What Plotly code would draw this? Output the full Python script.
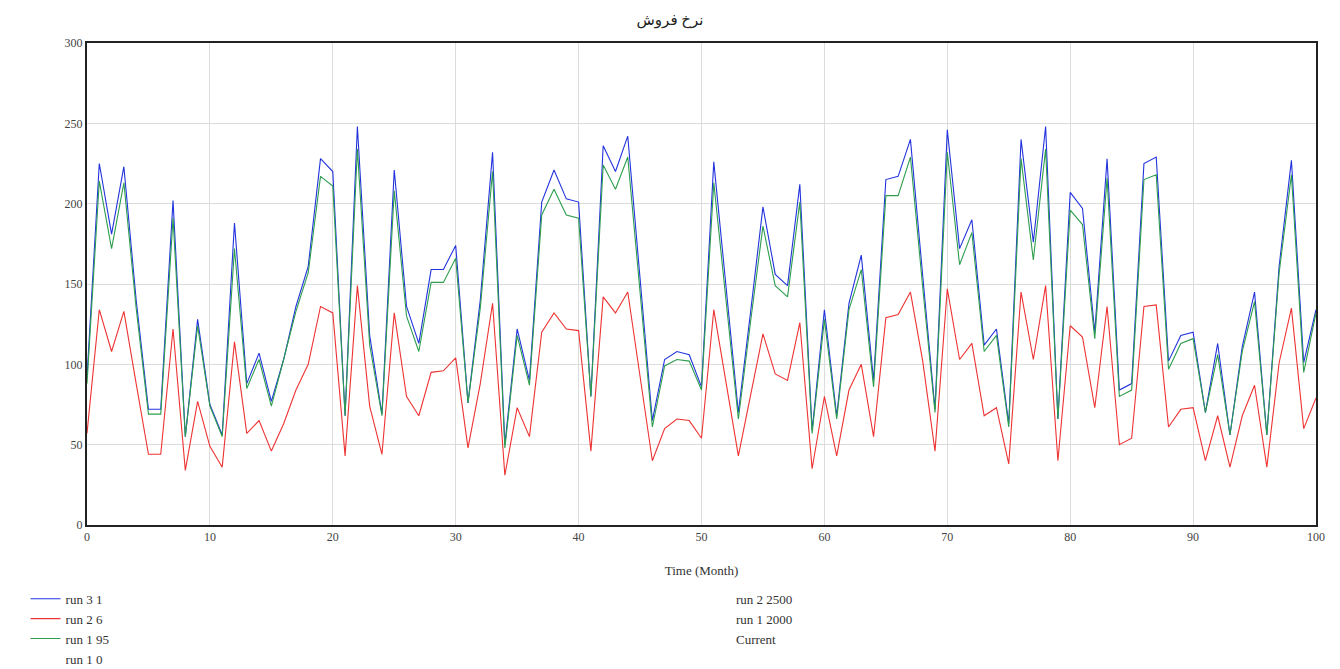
import plotly.graph_objects as go

months = list(range(0, 101))

run_3_1 = [92, 225, 181, 223, 140, 72, 72, 202, 55, 128, 75, 56, 188,
           88, 107, 77, 103, 136, 161, 228, 220, 68, 248, 118, 69, 221,
           136, 113, 159, 159, 174, 76, 140, 232, 50, 122, 90, 201, 221,
           203, 201, 80, 236, 220, 242, 153, 65, 103, 108, 106, 86, 226,
           147, 70, 133, 198, 156, 149, 212, 59, 134, 68, 138, 168, 90,
           215, 217, 240, 155, 72, 246, 172, 190, 112, 122, 63, 240, 176,
           248, 66, 207, 197, 120, 228, 84, 88, 225, 229, 102, 118, 120,
           70, 113, 56, 111, 145, 56, 161, 227, 101, 134]

run_2_6 = [57, 134, 108, 133, 88, 44, 44, 122, 34, 77, 49, 36, 114,
           57, 65, 46, 63, 84, 100, 136, 132, 43, 149, 74, 44, 132,
           80, 68, 95, 96, 104, 48, 88, 138, 31, 73, 55, 120, 132,
           122, 121, 46, 142, 132, 145, 93, 40, 60, 66, 65, 54, 134,
           88, 43, 81, 119, 94, 90, 126, 35, 80, 43, 84, 100, 55,
           129, 131, 145, 102, 46, 147, 103, 113, 68, 73, 38, 145, 103,
           149, 40, 124, 117, 73, 136, 50, 54, 136, 137, 61, 72, 73,
           40, 68, 36, 68, 87, 36, 101, 135, 60, 79]

run_1_95 = [88, 214, 172, 213, 135, 69, 69, 191, 55, 124, 74, 55, 172,
            85, 103, 74, 103, 133, 157, 217, 211, 68, 234, 112, 68, 208,
            130, 108, 151, 151, 166, 76, 135, 220, 48, 118, 87, 193, 209,
            193, 191, 80, 224, 209, 229, 146, 61, 99, 103, 102, 84, 213,
            140, 66, 127, 186, 149, 142, 201, 57, 128, 66, 134, 159, 86,
            205, 205, 229, 148, 70, 232, 162, 182, 108, 118, 61, 228, 165,
            234, 66, 196, 187, 116, 216, 80, 84, 215, 218, 97, 113, 116,
            70, 106, 56, 108, 139, 56, 157, 218, 95, 132]

series = [
    ("run 3 1", run_3_1, "#2233dd", "legend"),
    ("run 2 6", run_2_6, "#ee3333", "legend"),
    ("run 1 95", run_1_95, "#2e9e4e", "legend"),
]
hidden_series = [
    ("run 1 0", "legend"),
    ("run 2 2500", "legend2"),
    ("run 1 2000", "legend2"),
    ("Current", "legend2"),
]

title_text = "نرخ فروش"
x_title = "Time (Month)"

font_family = "Liberation Serif, Times New Roman, DejaVu Serif, DejaVu Sans"

fig = go.Figure()
for name, vals, color, lg in series:
    fig.add_trace(go.Scatter(x=months, y=vals, mode="lines", name=name,
                             line=dict(color=color, width=1.1), legend=lg,
                             showlegend=True))
for name, lg in hidden_series:
    fig.add_trace(go.Scatter(x=[None], y=[None], mode="lines", name=name,
                             line=dict(color="rgba(255,255,255,0)", width=1),
                             legend=lg, showlegend=True))

fig.update_layout(
    width=1340, height=669,
    showlegend=True,
    margin=dict(l=87, r=24, t=43, b=144, autoexpand=False),
    paper_bgcolor="white", plot_bgcolor="white",
    font=dict(family=font_family, size=12, color="#444"),
    title=dict(text=title_text, x=0.5, xanchor="center", y=0.97, yanchor="middle",
               font=dict(family=font_family, size=15, color="#222")),
    xaxis=dict(range=[0, 100], dtick=10, tick0=0, showgrid=True,
               gridcolor="#dcdcdc", gridwidth=1, zeroline=False,
               showline=True, linecolor="#222", linewidth=2, mirror=True,
               ticks="", tickfont=dict(size=12, color="#444"),
               title=dict(text=x_title, font=dict(size=13, color="#333"), standoff=22)),
    yaxis=dict(range=[0, 300], dtick=50, tick0=0, showgrid=True,
               gridcolor="#dcdcdc", gridwidth=1, zeroline=False,
               showline=True, linecolor="#222", linewidth=2, mirror=True,
               ticks="", tickfont=dict(size=12, color="#444")),
    legend=dict(x=-0.050, y=-0.122, xanchor="left", yanchor="top",
                orientation="v", bgcolor="rgba(0,0,0,0)", tracegroupgap=0,
                font=dict(family=font_family, size=13, color="#333"),
                itemwidth=30, visible=True),
    legend2=dict(x=0.4955, y=-0.122, xanchor="left", yanchor="top",
                 orientation="v", bgcolor="rgba(0,0,0,0)",
                 font=dict(family=font_family, size=13, color="#333"),
                 itemwidth=30, visible=True),
)

fig.write_html("out.html")
